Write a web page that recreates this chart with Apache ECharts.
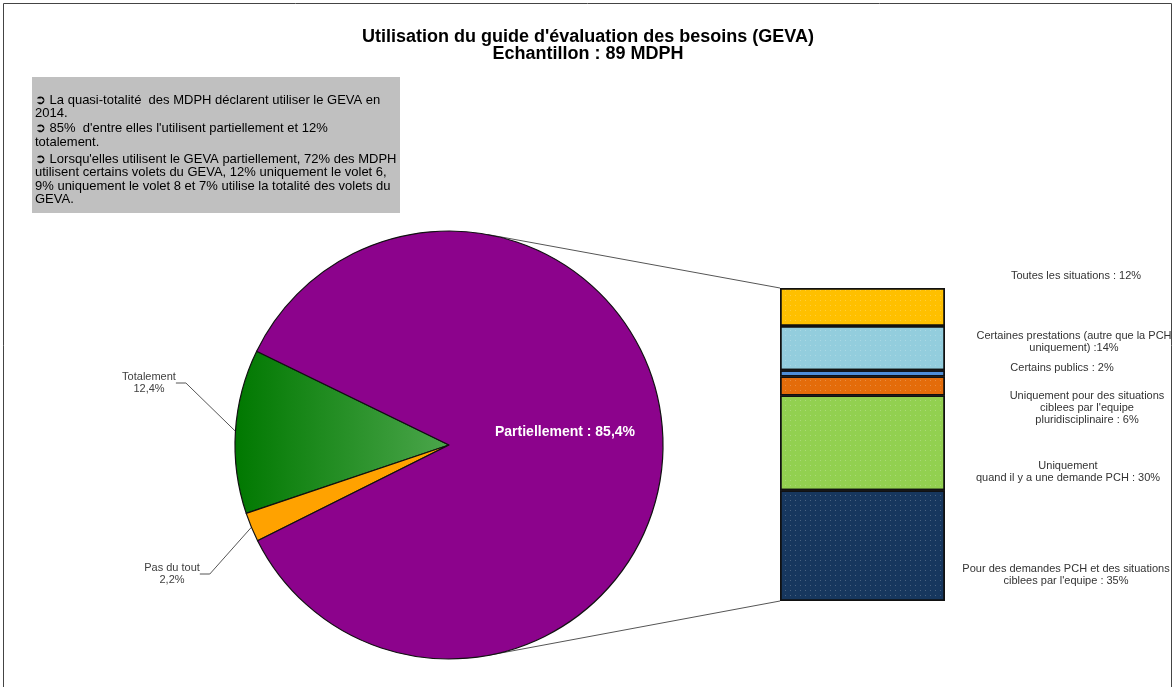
<!DOCTYPE html>
<html>
<head>
<meta charset="utf-8">
<script src="https://cdn.jsdelivr.net/npm/echarts@6/dist/echarts.min.js"></script>
<style>
  html, body { margin: 0; padding: 0; background: #fff; }
  #chart { width: 1176px; height: 687px; }
</style>
</head>
<body>
<div id="chart"></div>
<script>
// camembert principal
const pieNames = ['Totalement', 'Pas du tout', 'Partiellement'];
const pieValues = [12.4, 2.2, 85.4];
const pieLabels = ['Totalement\n12,4%', 'Pas du tout\n2,2%', 'Partiellement : 85,4%'];

// barre de détail (de bas en haut)
const barNames = [
  'Pour des demandes PCH et des situations ciblees',
  'Uniquement quand il y a une demande PCH',
  'Uniquement pour des situations ciblees',
  'Certains publics',
  'Certaines prestations',
  'Toutes les situations'
];
const barValues = [35, 30, 6, 2, 14, 12];
const barLabels = [
  'Pour des demandes PCH et des situations\nciblees par l\'equipe : 35%',
  'Uniquement\nquand il y a une demande PCH : 30%',
  'Uniquement pour des situations\nciblees par l\'equipe\npluridisciplinaire : 6%',
  'Certains publics : 2%',
  'Certaines prestations (autre que la PCH\nuniquement) :14%',
  'Toutes les situations : 12%'
];

const noteLines = [
  '\u27b2 La quasi-totalité  des MDPH déclarent utiliser le GEVA en',
  '2014.',
  '\u27b2 85%  d\'entre elles l\'utilisent partiellement et 12%',
  'totalement.',
  '\u27b2 Lorsqu\'elles utilisent le GEVA partiellement, 72% des MDPH',
  'utilisent certains volets du GEVA, 12% uniquement le volet 6,',
  '9% uniquement le volet 8 et 7% utilise la totalité des volets du',
  'GEVA.'
];
const noteY = [101, 114, 129, 143, 160, 173, 187, 200];

const pieColors = [
  { type: 'linear', x: 0, y: 0, x2: 1, y2: 0,
    colorStops: [{ offset: 0, color: '#007800' }, { offset: 1, color: '#4ca64c' }] },
  '#ffa200',
  '#8c038c'
];
const barColors = ['#17375e', '#92d050', '#e46c0a', '#4f8ed8', '#93cddd', '#ffc000'];
const labelPos = [[149, 383], [172, 574], [565, 432]];
const barLabelPos = [[1066, 575], [1068, 472], [1087, 408], [1062, 368], [1074, 342], [1076, 276]];

const cx = 449, cy = 445, R = 214;
const gLeft = 780, gTop = 288, gW = 165, gH = 313;

let chart = echarts.init(document.getElementById('chart'));

let dotDecal = {
  symbol: 'rect', symbolSize: 1,
  color: 'rgba(255,255,255,0.22)',
  dashArrayX: [1, 4], dashArrayY: [1, 4], rotation: 0
};

let barSeries = barValues.map((v, i) => ({
  name: barNames[i],
  type: 'bar',
  stack: 'detail',
  barWidth: '100%',
  data: [v],
  itemStyle: { color: barColors[i], borderColor: '#111', borderWidth: 1.5, decal: dotDecal },
  label: {
    show: true,
    position: [barLabelPos[i][0] - gLeft, 0],
    formatter: barLabels[i],
    align: 'center',
    verticalAlign: 'middle',
    color: '#333',
    fontSize: 11,
    fontFamily: 'Liberation Sans, Arial',
    lineHeight: 12
  },
  labelLayout: () => ({ x: barLabelPos[i][0], y: barLabelPos[i][1], align: 'center', verticalAlign: 'middle' }),
  silent: true
}));

// tangentes du camembert vers les coins de la barre
function tangent(px, py, upper) {
  let dx = px - cx, dy = py - cy;
  let d = Math.sqrt(dx * dx + dy * dy);
  let a = Math.atan2(dy, dx);
  let b = Math.acos(R / d);
  let t = upper ? a - b : a + b;
  return [cx + R * Math.cos(t), cy + R * Math.sin(t)];
}
let tTop = tangent(gLeft, gTop, true);
let tBot = tangent(gLeft, gTop + gH, false);

let noteTexts = noteLines.map((s, i) => ({
  type: 'text',
  left: 35, top: noteY[i] - 7,
  style: { text: s, font: '13px "Liberation Sans", Arial', fill: '#000' }
}));

let option = {
  animation: false,
  title: {
    text: 'Utilisation du guide d\'évaluation des besoins (GEVA)\nEchantillon : 89 MDPH',
    left: 'center',
    top: 24,
    textStyle: { fontSize: 18, fontWeight: 'bold', fontFamily: 'Liberation Sans, Arial', color: '#000', lineHeight: 17 }
  },
  grid: { left: gLeft, top: gTop, width: gW, height: gH },
  xAxis: { type: 'category', data: [''], show: false },
  yAxis: { type: 'value', min: 0, max: 99, show: false },
  graphic: [
    { type: 'rect', shape: { x: 3.5, y: 3.5, width: 1168, height: 700 },
      style: { fill: 'none', stroke: '#444', lineWidth: 1 }, z: 0 },
    { type: 'rect', shape: { x: 32, y: 77, width: 368, height: 136 },
      style: { fill: '#c0c0c0' }, z: 0 },
    { type: 'line', shape: { x1: tTop[0], y1: tTop[1], x2: gLeft, y2: gTop },
      style: { stroke: '#555', lineWidth: 1 }, z: 0 },
    { type: 'line', shape: { x1: tBot[0], y1: tBot[1], x2: gLeft, y2: gTop + gH },
      style: { stroke: '#555', lineWidth: 1 }, z: 0 }
  ].concat(noteTexts),
  series: [
    {
      type: 'pie',
      center: [cx, cy],
      radius: R,
      startAngle: 154,
      clockwise: false,
      silent: true,
      data: pieNames.map((n, i) => ({
        name: n,
        value: pieValues[i],
        itemStyle: { color: pieColors[i] },
        label: i === 2
          ? { position: 'inside', color: '#fff', fontWeight: 'bold', fontSize: 14, fontFamily: 'Liberation Sans, Arial' }
          : { position: 'outside', color: '#404040', fontSize: 11, fontFamily: 'Liberation Sans, Arial', lineHeight: 12 },
        labelLine: { show: i !== 2 }
      })),
      itemStyle: { borderColor: '#111', borderWidth: 1.2 },
      label: {
        show: true,
        formatter: p => pieLabels[p.dataIndex]
      },
      labelLine: { show: true, length: 20, length2: 10, lineStyle: { color: '#555', width: 1 } },
      labelLayout: p => ({ x: labelPos[p.dataIndex][0], y: labelPos[p.dataIndex][1], align: 'center', verticalAlign: 'middle' })
    }
  ].concat(barSeries)
};

chart.setOption(option);
</script>
</body>
</html>
